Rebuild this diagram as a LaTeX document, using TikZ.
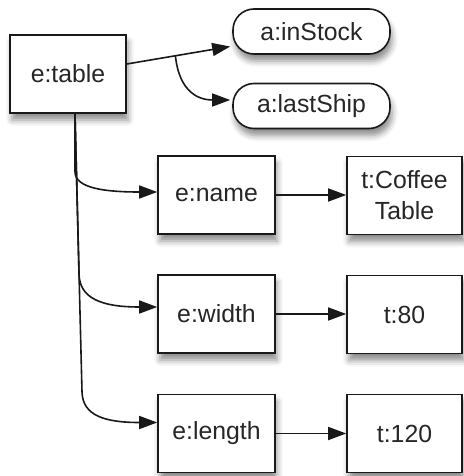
\documentclass[tikz,border=0pt]{standalone}
\usepackage{fontspec}
\setmainfont{Liberation Sans}
\usetikzlibrary{arrows.meta,calc,shadows.blur}
\begin{document}
\begin{tikzpicture}[x=1pt,y=1pt,
  every node/.style={font=\fontsize{24.8}{31}\selectfont, text=black!85},
  box/.style={draw=black!90, line width=1.6pt, fill=white, inner sep=0pt,
    minimum width=116pt, minimum height=78pt, align=center,
    blur shadow={shadow xshift=2pt, shadow yshift=-7pt, shadow blur radius=6pt, shadow opacity=45}},
  attr/.style={box, minimum width=157pt, minimum height=45pt, rounded corners=21pt},
  conn/.style={line width=1.6pt, draw=black!90, -{Triangle[length=18pt,width=13pt]}},
  plain/.style={line width=1.6pt, draw=black!90}]
\useasboundingbox (0,0) rectangle (463,-476);
\node[box] (table) at (68,-74) {e:table};
\node[attr] (instock) at (311.5,-31.5) {a:inStock};
\node[attr] (lastship) at (311.5,-106) {a:lastShip};
\node[box, minimum width=117pt] (name) at (216.5,-195) {e:name};
\node[box, minimum width=115pt] (coffee) at (404.5,-195.5) {t:Coffee\\Table};
\node[box, minimum width=117pt] (width) at (216.5,-314) {e:width};
\node[box, minimum width=115pt] (t80) at (404.5,-314.5) {t:80};
\node[box, minimum width=117pt] (length) at (216.5,-433.5) {e:length};
\node[box, minimum width=115pt] (t120) at (404.5,-433.5) {t:120};
% attribute connectors
\coordinate (ts) at ($(table.east)+(0,10)$);
\coordinate (it) at ($(instock.west)+(-2,-15)$);
\coordinate (br) at ($(ts)!0.47!(it)$);
\coordinate (lt) at ($(lastship.west)+(-2,6)$);
\draw[conn] (ts) -- (it);
\draw[conn] (br) .. controls +(4,-38) and +(-30,0) .. (lt);
% element connectors
\coordinate (tb) at ($(table.south)+(7,0)$);
\coordinate (ne) at ($(name.west)+(0,3)$);
\coordinate (we) at ($(width.west)+(0,7)$);
\coordinate (le) at ($(length.west)+(0,11)$);
\coordinate (k1) at ($(tb)+(0,-58)$);
\coordinate (k2) at ($(tb)+(4,-160)$);
\coordinate (k3) at ($(tb)+(7,-278)$);
\draw[conn] (tb) -- (k1) .. controls +(0,-17) and +(-50,0) .. (ne);
\draw[conn] (tb) -- (k2) .. controls +(0.5,-25) and +(-55,0) .. (we);
\draw[conn] (tb) -- (k3) .. controls +(0.5,-24) and +(-52,0) .. (le);
% text connectors
\draw[conn] (name.east) -- (coffee.west |- name.east);
\draw[conn] (width.east) -- (t80.west |- width.east);
\draw[conn] (length.east) -- (t120.west |- length.east);
\end{tikzpicture}
\end{document}
